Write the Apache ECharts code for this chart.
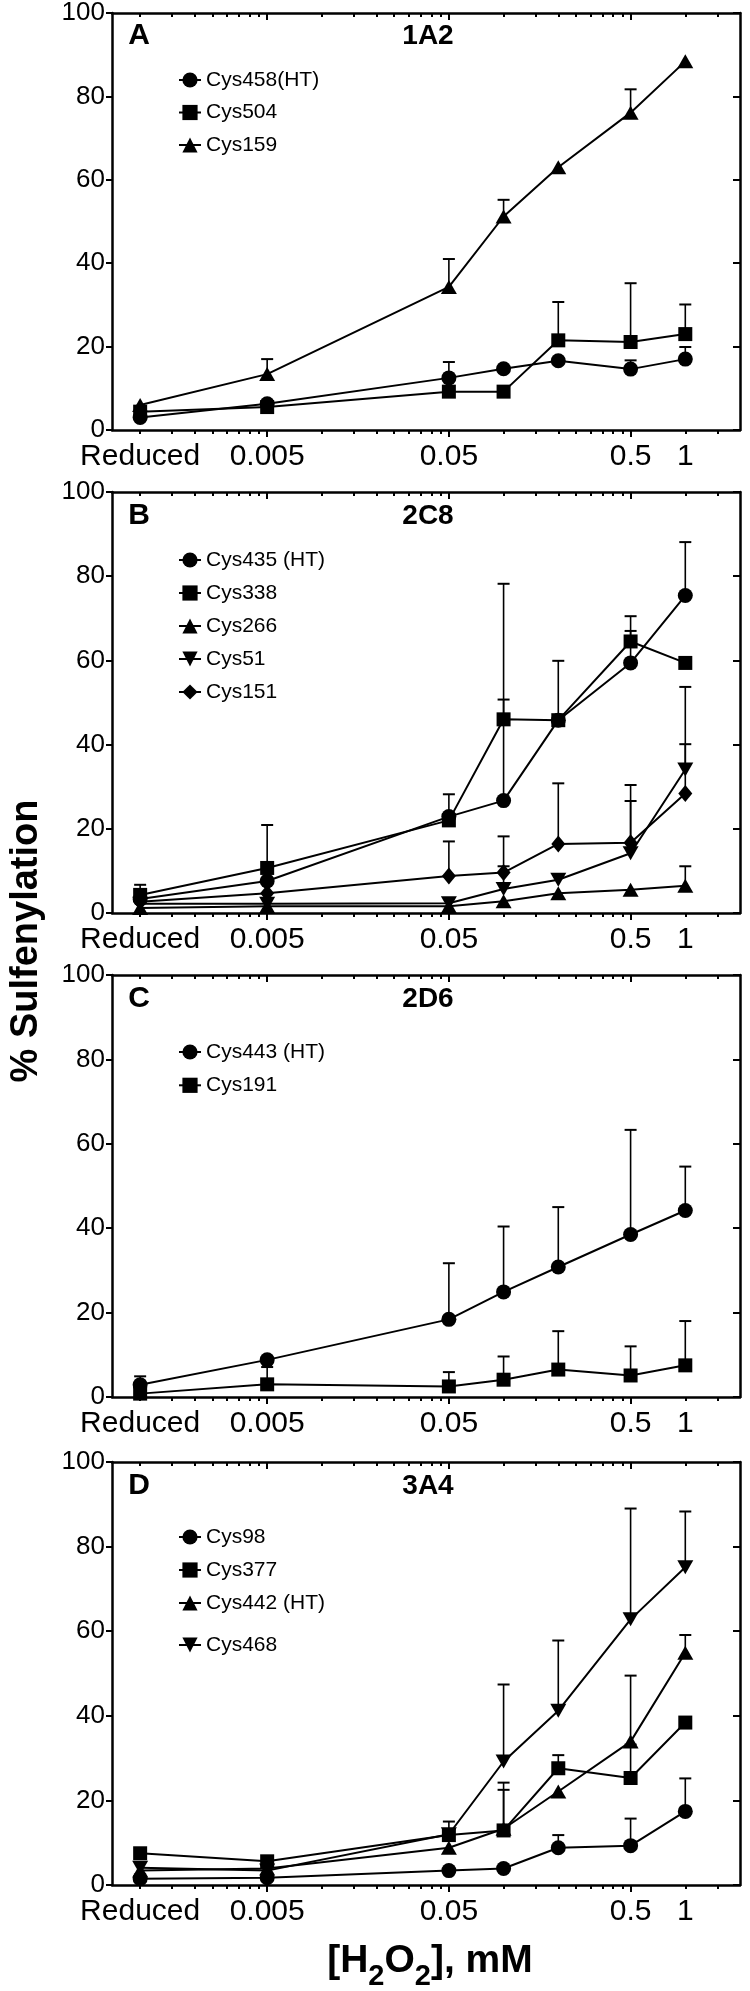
<!DOCTYPE html>
<html><head><meta charset="utf-8">
<script src="https://cdn.jsdelivr.net/npm/echarts@6/dist/echarts.min.js"></script>
<style>html,body{margin:0;padding:0;background:#fff}#c{width:750px;height:1991px}</style>
</head><body><div id="c"></div>
<script>
// ---------------- data ----------------
// "Reduced" (no H2O2) is drawn at 0.001 mM on the log axis
const DOSES = [0.001, 0.005, 0.05, 0.1, 0.2, 0.5, 1];
const X_LABEL_VALUES = [0.001, 0.005, 0.05, 0.5, 1];
const X_LABEL_TEXT = ['Reduced', '0.005', '0.05', '0.5', '1'];
const X_MAJOR_TICKS = [0.005, 0.05, 0.5];
const X_MINOR_TICKS = [0.001, 0.0015, 0.002, 0.0025, 0.003, 0.0035, 0.004, 0.0045,
  0.01, 0.015, 0.02, 0.025, 0.03, 0.035, 0.04, 0.045,
  0.1, 0.15, 0.2, 0.25, 0.3, 0.35, 0.4, 0.45, 1, 1.5];
const X_MIN = 0.0007, X_MAX = 2;
const Y_MIN = 0, Y_MAX = 100, Y_STEP = 20;

const PANEL_LETTERS = ['A', 'B', 'C', 'D'];
const PANEL_TITLES = ['1A2', '2C8', '2D6', '3A4'];
const Y_TITLE = '% Sulfenylation';
// x title pieces: [text, isSubscript]
const X_TITLE_PARTS = [['[H', false], ['2', true], ['O', false], ['2', true], ['], mM', false]];

// Panel A: 1A2
const A_NAMES = ['Cys458(HT)', 'Cys504', 'Cys159'];
const A_CYS458 = [3.0, 6.3, 12.5, 14.7, 16.6, 14.6, 17.0];
const A_CYS458_SD = [null, null, 3.8, null, null, 2.1, 2.9];
const A_CYS504 = [4.4, 5.5, 9.2, 9.2, 21.5, 21.1, 23.0];
const A_CYS504_SD = [null, null, null, null, 9.2, 14.1, 7.1];
const A_CYS159 = [6.0, 13.4, 34.3, 51.2, 63.0, 76.1, 88.4];
const A_CYS159_SD = [null, 3.6, 6.7, 4.0, null, 5.6, null];

// Panel B: 2C8
const B_NAMES = ['Cys435 (HT)', 'Cys338', 'Cys266', 'Cys51', 'Cys151'];
const B_CYS435 = [3.3, 7.6, 22.9, 26.7, 45.8, 59.4, 75.4];
const B_CYS435_SD = [null, null, 5.3, 51.5, 14.1, 7.6, 12.7];
const B_CYS338 = [4.3, 10.7, 22.0, 46.0, 45.8, 64.5, 59.4];
const B_CYS338_SD = [2.4, 10.2, null, 4.7, null, 6.0, null];
const B_CYS266 = [1.2, 1.6, 1.6, 2.8, 4.7, 5.5, 6.5];
const B_CYS266_SD = [null, null, null, null, null, null, 4.6];
const B_CYS51 = [2.2, 2.2, 2.3, 5.7, 7.9, 14.2, 34.1];
const B_CYS51_SD = [null, null, null, 5.4, null, 12.4, 19.6];
const B_CYS151 = [2.7, 4.7, 8.8, 9.6, 16.4, 16.7, 28.4];
const B_CYS151_SD = [null, null, 8.2, 8.6, 14.4, 13.7, 11.7];

// Panel C: 2D6
const C_NAMES = ['Cys443 (HT)', 'Cys191'];
const C_CYS443 = [2.9, 8.8, 18.4, 24.9, 30.8, 38.5, 44.2];
const C_CYS443_SD = [2.0, null, 13.3, 15.5, 14.2, 24.8, 10.4];
const C_CYS191 = [0.8, 3.0, 2.5, 4.1, 6.5, 5.1, 7.5];
const C_CYS191_SD = [null, 4.1, 3.4, 5.5, 9.1, 6.9, 10.5];

// Panel D: 3A4
const D_NAMES = ['Cys98', 'Cys377', 'Cys442 (HT)', 'Cys468'];
const D_CYS98 = [1.5, 1.7, 3.4, 3.9, 8.8, 9.3, 17.4];
const D_CYS98_SD = [null, null, null, null, 3.0, 6.4, 7.8];
const D_CYS377 = [7.5, 5.6, 11.8, 12.9, 27.6, 25.3, 38.4];
const D_CYS377_SD = [null, null, 3.2, 9.6, 3.1, 7.9, null];
const D_CYS442 = [3.4, 3.9, 8.8, 13.3, 22.1, 33.9, 54.9];
const D_CYS442_SD = [null, null, null, 10.9, null, 15.6, 4.2];
const D_CYS468 = [4.1, 3.4, 12.0, 29.2, 41.2, 62.8, 75.1];
const D_CYS468_SD = [null, null, null, 18.2, 16.6, 26.2, 13.2];

// ---------------- styling / layout ----------------
const FONT = '"Liberation Sans", Arial, Helvetica, sans-serif';
const SYM = {
  circle:   { symbol: 'circle',   size: 15, rotate: 0 },
  square:   { symbol: 'rect',     size: 14, rotate: 0 },
  triangle: { symbol: 'triangle', size: [16, 14], rotate: 0 },
  down:     { symbol: 'triangle', size: [16, 14], rotate: 180 },
  diamond:  { symbol: 'diamond',  size: [14, 17], rotate: 0 }
};
const PANELS = [
  { names: A_NAMES, syms: ['circle', 'square', 'triangle'],
    vals: [A_CYS458, A_CYS504, A_CYS159], sds: [A_CYS458_SD, A_CYS504_SD, A_CYS159_SD] },
  { names: B_NAMES, syms: ['circle', 'square', 'triangle', 'down', 'diamond'],
    vals: [B_CYS435, B_CYS338, B_CYS266, B_CYS51, B_CYS151],
    sds: [B_CYS435_SD, B_CYS338_SD, B_CYS266_SD, B_CYS51_SD, B_CYS151_SD] },
  { names: C_NAMES, syms: ['circle', 'square'],
    vals: [C_CYS443, C_CYS191], sds: [C_CYS443_SD, C_CYS191_SD] },
  { names: D_NAMES, syms: ['circle', 'square', 'triangle', 'down'],
    vals: [D_CYS98, D_CYS377, D_CYS442, D_CYS468],
    sds: [D_CYS98_SD, D_CYS377_SD, D_CYS442_SD, D_CYS468_SD] }
];
const GRID_LEFT = 112, GRID_WIDTH = 628;
const GRID_BOX = [ { top: 12, height: 418 }, { top: 492, height: 421 },
                   { top: 975, height: 422 }, { top: 1462, height: 423 } ];
// legend groups: [first item index, count, center y of first row (relative to panel top), row spacing]
const LEGEND_GROUPS = [
  [[0, 3, 68, 32.5]],
  [[0, 5, 68, 33]],
  [[0, 2, 77, 33.3]],
  [[0, 3, 75, 33], [3, 1, 183, 33]]
];
const BLACK = '#000';

function labelFor(v) {
  const i = X_LABEL_VALUES.findIndex(u => Math.abs(Math.log10(u) - Math.log10(v)) < 1e-6);
  return i >= 0 ? X_LABEL_TEXT[i] : '';
}

const option = {
  animation: false, backgroundColor: '#fff',
  grid: [], xAxis: [], yAxis: [], series: [], legend: [], graphic: []
};

PANELS.forEach((p, gi) => {
  const box = GRID_BOX[gi];
  option.grid.push({ left: GRID_LEFT, top: box.top, width: GRID_WIDTH, height: box.height });
  const xBase = (pos, major, showLine, inside) => ({
    type: 'log', logBase: 10, min: X_MIN, max: X_MAX, gridIndex: gi, position: pos,
    splitLine: { show: false },
    axisLine: { show: showLine, onZero: false, lineStyle: { color: BLACK, width: 2.5 } },
    axisTick: { show: true, inside: inside, length: major ? 7 : 4,
      customValues: major ? X_MAJOR_TICKS : X_MINOR_TICKS,
      lineStyle: { color: BLACK, width: 2 } },
    axisLabel: { show: false }
  });
  const xb = xBase('bottom', true, true, false);
  xb.axisLabel = { show: true, customValues: X_LABEL_VALUES, formatter: labelFor,
    color: BLACK, fontSize: 30, fontFamily: FONT, margin: 12 };
  const xIdx = option.xAxis.length;
  option.xAxis.push(xb, xBase('bottom', false, false, false),
                    xBase('top', true, true, true), xBase('top', false, false, true));
  const yIdx = option.yAxis.length;
  option.yAxis.push({
    type: 'value', min: Y_MIN, max: Y_MAX, interval: Y_STEP, gridIndex: gi, position: 'left',
    splitLine: { show: false },
    axisLine: { show: true, onZero: false, lineStyle: { color: BLACK, width: 2.5 } },
    axisTick: { show: true, length: 6, lineStyle: { color: BLACK, width: 2 } },
    axisLabel: { color: BLACK, fontSize: 26, fontFamily: FONT, margin: 7 }
  }, {
    type: 'value', min: Y_MIN, max: Y_MAX, interval: Y_STEP, gridIndex: gi, position: 'right',
    splitLine: { show: false },
    axisLine: { show: true, onZero: false, lineStyle: { color: BLACK, width: 2.5 } },
    axisTick: { show: true, inside: true, length: 7, lineStyle: { color: BLACK, width: 2 } },
    axisLabel: { show: false }
  });

  p.names.forEach((name, si) => {
    const s = SYM[p.syms[si]];
    const vals = p.vals[si], sds = p.sds[si];
    option.series.push({
      type: 'custom', name: name + ' SD', coordinateSystem: 'cartesian2d',
      xAxisIndex: xIdx, yAxisIndex: yIdx, z: 1, silent: true,
      data: DOSES.map((d, k) => [d, vals[k], sds[k]]).filter(r => r[2] != null),
      encode: { x: 0, y: 1 },
      renderItem: (params, api) => {
        const x = api.value(0), y = api.value(1), top = y + api.value(2);
        const a = api.coord([x, y]), b = api.coord([x, top]);
        return { type: 'group', children: [
          { type: 'line', shape: { x1: a[0], y1: a[1], x2: b[0], y2: b[1] },
            style: { stroke: BLACK, lineWidth: 1.6 } },
          { type: 'line', shape: { x1: b[0] - 6, y1: b[1], x2: b[0] + 6, y2: b[1] },
            style: { stroke: BLACK, lineWidth: 2 } }
        ] };
      }
    });
    option.series.push({
      type: 'line', name: name, xAxisIndex: xIdx, yAxisIndex: yIdx, z: 3,
      data: DOSES.map((d, k) => [d, vals[k]]),
      symbol: s.symbol, symbolSize: s.size, symbolRotate: s.rotate, showAllSymbol: true,
      lineStyle: { color: BLACK, width: 2 }, itemStyle: { color: BLACK, borderWidth: 0 },
      emphasis: { disabled: true }
    });
  });

  LEGEND_GROUPS[gi].forEach(([start, count, cy, step]) => {
    option.legend.push({
      data: p.names.slice(start, start + count), orient: 'vertical', selectedMode: false,
      left: 178, top: box.top + cy - 11, padding: 0, itemWidth: 22, itemHeight: 19,
      itemGap: step - 22,
      textStyle: { color: BLACK, fontSize: 21, fontFamily: FONT, lineHeight: 22 }
    });
  });

  option.graphic.push({
    type: 'text', x: 139, y: box.top + 24, silent: true,
    style: { text: PANEL_LETTERS[gi], fill: BLACK, font: 'bold 30px ' + FONT,
             textAlign: 'center', textVerticalAlign: 'middle' }
  }, {
    type: 'text', x: 428, y: box.top + 24, silent: true,
    style: { text: PANEL_TITLES[gi], fill: BLACK, font: 'bold 28px ' + FONT,
             textAlign: 'center', textVerticalAlign: 'middle' }
  });
});

// y-axis title (shared by all panels)
option.graphic.push({
  type: 'text', x: 27, y: 941, rotation: Math.PI / 2, silent: true,
  style: { text: Y_TITLE, fill: BLACK, font: 'bold 38px ' + FONT,
           textAlign: 'center', textVerticalAlign: 'middle' }
});

// x-axis title with true subscripts: pieces laid out left to right
(function () {
  const MAIN_FONT = 'bold 39px ' + FONT, SUB_FONT = 'bold 29px ' + FONT;
  const ctx = document.createElement('canvas').getContext('2d');
  const widths = X_TITLE_PARTS.map(([t, sub]) => { ctx.font = sub ? SUB_FONT : MAIN_FONT; return ctx.measureText(t).width; });
  const total = widths.reduce((a, b) => a + b, 0);
  let x = 430 - total / 2;
  X_TITLE_PARTS.forEach(([t, sub], i) => {
    option.graphic.push({
      type: 'text', x: x, y: sub ? 1977 : 1961, silent: true,
      style: { text: t, fill: BLACK, font: sub ? SUB_FONT : MAIN_FONT,
               textAlign: 'left', textVerticalAlign: 'middle' }
    });
    x += widths[i];
  });
})();

const chart = echarts.init(document.getElementById('c'), null, { renderer: 'canvas', width: 750, height: 1991 });
chart.setOption(option);
</script></body></html>
